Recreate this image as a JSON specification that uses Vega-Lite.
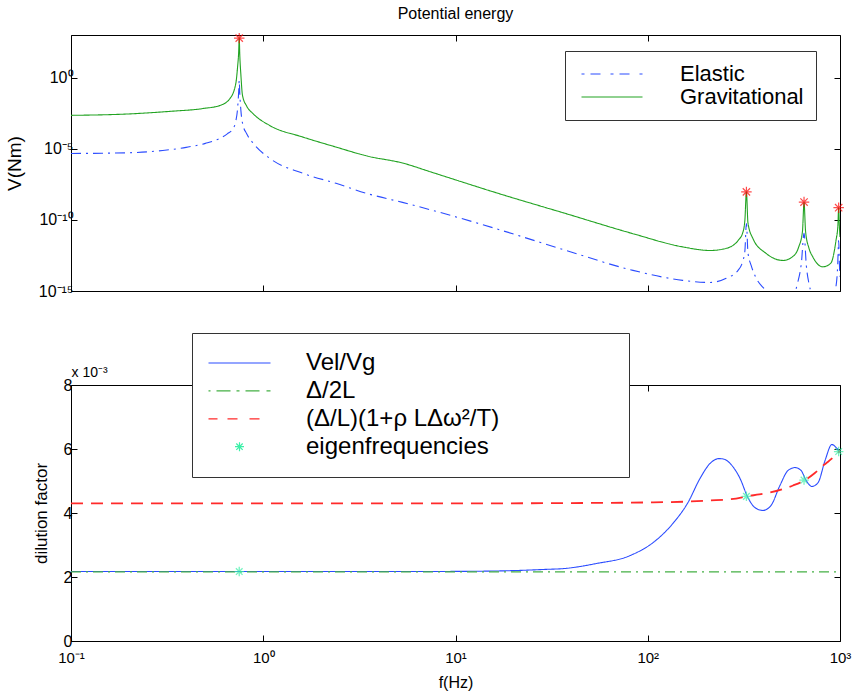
{
  "$schema": "https://vega.github.io/schema/vega-lite/v6.json",
  "background": "white",
  "padding": {"left": 4, "top": 5, "right": 10, "bottom": 0},
  "bounds": "flush",
  "spacing": 94,
  "resolve": {"scale": {"color": "independent", "strokeDash": "independent", "strokeWidth": "independent"}},
  "config": {
    "font": "Liberation Sans",
    "view": {"stroke": "black", "strokeWidth": 1},
    "title": {"font": "Liberation Sans", "fontWeight": "normal", "color": "black"},
    "axis": {
      "domain": false,
      "grid": false,
      "tickSize": -6,
      "tickColor": "black",
      "labelFont": "Liberation Sans",
      "titleFont": "Liberation Sans",
      "labelColor": "black",
      "titleColor": "black",
      "titleFontWeight": "normal",
      "labelFontSize": 16,
      "labelFlush": false,
      "labelOverlap": false
    },
    "legend": {"labelFont": "Liberation Sans", "labelColor": "black", "labelLimit": 0}
  },
  "datasets": {
    "potential": [
      {"f": 0.1, "V": 4.68e-6, "series": "Elastic"},
      {"f": 0.15, "V": 4.9e-6, "series": "Elastic"},
      {"f": 0.218, "V": 5.5e-6, "series": "Elastic"},
      {"f": 0.3, "V": 7.59e-6, "series": "Elastic"},
      {"f": 0.397, "V": 1.26e-5, "series": "Elastic"},
      {"f": 0.5, "V": 2.4e-5, "series": "Elastic"},
      {"f": 0.594, "V": 5.37e-5, "series": "Elastic"},
      {"f": 0.65, "V": 1.12e-4, "series": "Elastic"},
      {"f": 0.697, "V": 2.69e-4, "series": "Elastic"},
      {"f": 0.72, "V": 8.91e-4, "series": "Elastic"},
      {"f": 0.735, "V": 6.31e-3, "series": "Elastic"},
      {"f": 0.745, "V": 0.1, "series": "Elastic"},
      {"f": 0.75, "V": 0.631, "series": "Elastic"},
      {"f": 0.755, "V": 0.0794, "series": "Elastic"},
      {"f": 0.765, "V": 5.01e-3, "series": "Elastic"},
      {"f": 0.78, "V": 6.31e-4, "series": "Elastic"},
      {"f": 0.82, "V": 1.12e-4, "series": "Elastic"},
      {"f": 0.885, "V": 2.51e-5, "series": "Elastic"},
      {"f": 1.08, "V": 2.14e-6, "series": "Elastic"},
      {"f": 1.61, "V": 1.86e-7, "series": "Elastic"},
      {"f": 2.39, "V": 3.72e-8, "series": "Elastic"},
      {"f": 3.5, "V": 6.9e-9, "series": "Elastic"},
      {"f": 5.3, "V": 1.7e-9, "series": "Elastic"},
      {"f": 7.6, "V": 4.68e-10, "series": "Elastic"},
      {"f": 17, "V": 2.0e-11, "series": "Elastic"},
      {"f": 37.6, "V": 7.08e-13, "series": "Elastic"},
      {"f": 83.8, "V": 2.82e-14, "series": "Elastic"},
      {"f": 152, "V": 5.62e-15, "series": "Elastic"},
      {"f": 211, "V": 3.98e-15, "series": "Elastic"},
      {"f": 256, "V": 7.94e-15, "series": "Elastic"},
      {"f": 295, "V": 2.82e-14, "series": "Elastic"},
      {"f": 312, "V": 1.26e-13, "series": "Elastic"},
      {"f": 320, "V": 6.31e-13, "series": "Elastic"},
      {"f": 326, "V": 5.62e-11, "series": "Elastic"},
      {"f": 332, "V": 5.01e-13, "series": "Elastic"},
      {"f": 345, "V": 6.31e-14, "series": "Elastic"},
      {"f": 365, "V": 8.91e-15, "series": "Elastic"},
      {"f": 412, "V": 1e-15, "series": "Elastic"},
      {"f": 460, "V": 1e-16, "series": "Elastic"},
      {"f": 520, "V": 1e-17, "series": "Elastic"},
      {"f": 570, "V": 3.16e-16, "series": "Elastic"},
      {"f": 600, "V": 3.16e-15, "series": "Elastic"},
      {"f": 630, "V": 1e-13, "series": "Elastic"},
      {"f": 650, "V": 1.12e-11, "series": "Elastic"},
      {"f": 668, "V": 6.31e-14, "series": "Elastic"},
      {"f": 690, "V": 3.16e-15, "series": "Elastic"},
      {"f": 712, "V": 6.31e-16, "series": "Elastic"},
      {"f": 780, "V": 1e-17, "series": "Elastic"},
      {"f": 900, "V": 1e-16, "series": "Elastic"},
      {"f": 945, "V": 1e-15, "series": "Elastic"},
      {"f": 972, "V": 5.01e-14, "series": "Elastic"},
      {"f": 984, "V": 3.55e-12, "series": "Elastic"},
      {"f": 994, "V": 5.01e-14, "series": "Elastic"},
      {"f": 1000, "V": 1e-14, "series": "Elastic"},
      {"f": 0.1, "V": 2.24e-3, "series": "Gravitational"},
      {"f": 0.2, "V": 2.82e-3, "series": "Gravitational"},
      {"f": 0.327, "V": 4.27e-3, "series": "Gravitational"},
      {"f": 0.486, "V": 6.76e-3, "series": "Gravitational"},
      {"f": 0.596, "V": 1.12e-2, "series": "Gravitational"},
      {"f": 0.67, "V": 3.31e-2, "series": "Gravitational"},
      {"f": 0.72, "V": 0.398, "series": "Gravitational"},
      {"f": 0.735, "V": 5.37, "series": "Gravitational"},
      {"f": 0.745, "V": 63.1, "series": "Gravitational"},
      {"f": 0.75, "V": 631, "series": "Gravitational"},
      {"f": 0.755, "V": 39.8, "series": "Gravitational"},
      {"f": 0.765, "V": 1.58, "series": "Gravitational"},
      {"f": 0.78, "V": 5.62e-2, "series": "Gravitational"},
      {"f": 0.82, "V": 1e-2, "series": "Gravitational"},
      {"f": 0.885, "V": 2.95e-3, "series": "Gravitational"},
      {"f": 1.08, "V": 4.37e-4, "series": "Gravitational"},
      {"f": 1.61, "V": 6.61e-5, "series": "Gravitational"},
      {"f": 2.39, "V": 1.32e-5, "series": "Gravitational"},
      {"f": 3.5, "V": 3.0e-6, "series": "Gravitational"},
      {"f": 5.3, "V": 1e-6, "series": "Gravitational"},
      {"f": 7.6, "V": 2.14e-7, "series": "Gravitational"},
      {"f": 17, "V": 6.76e-9, "series": "Gravitational"},
      {"f": 37.6, "V": 2.75e-10, "series": "Gravitational"},
      {"f": 83.8, "V": 1.07e-11, "series": "Gravitational"},
      {"f": 152, "V": 1.26e-12, "series": "Gravitational"},
      {"f": 211, "V": 7.08e-13, "series": "Gravitational"},
      {"f": 256, "V": 1e-12, "series": "Gravitational"},
      {"f": 295, "V": 3.55e-12, "series": "Gravitational"},
      {"f": 312, "V": 1.26e-11, "series": "Gravitational"},
      {"f": 320, "V": 9.12e-11, "series": "Gravitational"},
      {"f": 326, "V": 9.33e-9, "series": "Gravitational"},
      {"f": 332, "V": 6.31e-11, "series": "Gravitational"},
      {"f": 352, "V": 5.01e-12, "series": "Gravitational"},
      {"f": 412, "V": 4.47e-13, "series": "Gravitational"},
      {"f": 505, "V": 1.41e-13, "series": "Gravitational"},
      {"f": 565, "V": 2.51e-13, "series": "Gravitational"},
      {"f": 610, "V": 1.26e-12, "series": "Gravitational"},
      {"f": 638, "V": 1.58e-11, "series": "Gravitational"},
      {"f": 650, "V": 1.7e-9, "series": "Gravitational"},
      {"f": 662, "V": 1.58e-11, "series": "Gravitational"},
      {"f": 690, "V": 1e-12, "series": "Gravitational"},
      {"f": 722, "V": 2.51e-13, "series": "Gravitational"},
      {"f": 813, "V": 5.01e-14, "series": "Gravitational"},
      {"f": 895, "V": 8.91e-14, "series": "Gravitational"},
      {"f": 953, "V": 3.55e-12, "series": "Gravitational"},
      {"f": 975, "V": 3.98e-11, "series": "Gravitational"},
      {"f": 984, "V": 7.08e-10, "series": "Gravitational"},
      {"f": 992, "V": 3.98e-11, "series": "Gravitational"},
      {"f": 1000, "V": 6.31e-12, "series": "Gravitational"}
    ],
    "peaks": [
      {"f": 0.75, "V": 603},
      {"f": 326, "V": 9.33e-9},
      {"f": 650, "V": 1.78e-9},
      {"f": 984, "V": 7.24e-10}
    ],
    "dilution": [
      {"f": 0.1, "d": 2.17, "series": "Vel/Vg"},
      {"f": 1, "d": 2.17, "series": "Vel/Vg"},
      {"f": 5, "d": 2.17, "series": "Vel/Vg"},
      {"f": 10, "d": 2.175, "series": "Vel/Vg"},
      {"f": 20, "d": 2.2, "series": "Vel/Vg"},
      {"f": 30, "d": 2.24, "series": "Vel/Vg"},
      {"f": 36, "d": 2.26, "series": "Vel/Vg"},
      {"f": 54, "d": 2.42, "series": "Vel/Vg"},
      {"f": 81, "d": 2.67, "series": "Vel/Vg"},
      {"f": 110, "d": 3.14, "series": "Vel/Vg"},
      {"f": 135, "d": 3.67, "series": "Vel/Vg"},
      {"f": 162, "d": 4.33, "series": "Vel/Vg"},
      {"f": 187, "d": 5.08, "series": "Vel/Vg"},
      {"f": 211, "d": 5.55, "series": "Vel/Vg"},
      {"f": 235, "d": 5.7, "series": "Vel/Vg"},
      {"f": 250, "d": 5.68, "series": "Vel/Vg"},
      {"f": 268, "d": 5.55, "series": "Vel/Vg"},
      {"f": 302, "d": 5.08, "series": "Vel/Vg"},
      {"f": 332, "d": 4.48, "series": "Vel/Vg"},
      {"f": 361, "d": 4.17, "series": "Vel/Vg"},
      {"f": 397, "d": 4.08, "series": "Vel/Vg"},
      {"f": 437, "d": 4.23, "series": "Vel/Vg"},
      {"f": 487, "d": 4.86, "series": "Vel/Vg"},
      {"f": 537, "d": 5.33, "series": "Vel/Vg"},
      {"f": 584, "d": 5.42, "series": "Vel/Vg"},
      {"f": 627, "d": 5.33, "series": "Vel/Vg"},
      {"f": 666, "d": 5.02, "series": "Vel/Vg"},
      {"f": 715, "d": 4.83, "series": "Vel/Vg"},
      {"f": 769, "d": 4.95, "series": "Vel/Vg"},
      {"f": 836, "d": 5.64, "series": "Vel/Vg"},
      {"f": 908, "d": 6.14, "series": "Vel/Vg"},
      {"f": 953, "d": 6.05, "series": "Vel/Vg"},
      {"f": 1000, "d": 5.89, "series": "Vel/Vg"},
      {"f": 0.1, "d": 2.16, "series": "Δ/2L"},
      {"f": 1000, "d": 2.16, "series": "Δ/2L"},
      {"f": 0.1, "d": 4.3, "series": "(Δ/L)(1+ρ LΔω²/T)"},
      {"f": 1, "d": 4.3, "series": "(Δ/L)(1+ρ LΔω²/T)"},
      {"f": 10, "d": 4.3, "series": "(Δ/L)(1+ρ LΔω²/T)"},
      {"f": 36, "d": 4.31, "series": "(Δ/L)(1+ρ LΔω²/T)"},
      {"f": 100, "d": 4.33, "series": "(Δ/L)(1+ρ LΔω²/T)"},
      {"f": 166, "d": 4.36, "series": "(Δ/L)(1+ρ LΔω²/T)"},
      {"f": 206, "d": 4.39, "series": "(Δ/L)(1+ρ LΔω²/T)"},
      {"f": 288, "d": 4.45, "series": "(Δ/L)(1+ρ LΔω²/T)"},
      {"f": 326, "d": 4.52, "series": "(Δ/L)(1+ρ LΔω²/T)"},
      {"f": 380, "d": 4.58, "series": "(Δ/L)(1+ρ LΔω²/T)"},
      {"f": 432, "d": 4.64, "series": "(Δ/L)(1+ρ LΔω²/T)"},
      {"f": 500, "d": 4.74, "series": "(Δ/L)(1+ρ LΔω²/T)"},
      {"f": 570, "d": 4.86, "series": "(Δ/L)(1+ρ LΔω²/T)"},
      {"f": 666, "d": 5.05, "series": "(Δ/L)(1+ρ LΔω²/T)"},
      {"f": 740, "d": 5.25, "series": "(Δ/L)(1+ρ LΔω²/T)"},
      {"f": 816, "d": 5.48, "series": "(Δ/L)(1+ρ LΔω²/T)"},
      {"f": 867, "d": 5.6, "series": "(Δ/L)(1+ρ LΔω²/T)"},
      {"f": 930, "d": 5.76, "series": "(Δ/L)(1+ρ LΔω²/T)"},
      {"f": 1000, "d": 5.95, "series": "(Δ/L)(1+ρ LΔω²/T)"}
    ],
    "eigen": [
      {"f": 0.75, "d": 2.17},
      {"f": 326, "d": 4.52},
      {"f": 650, "d": 5.03},
      {"f": 984, "d": 5.92}
    ]
  },
  "vconcat": [
    {
      "width": 769,
      "height": 256,
      "title": {"text": "Potential energy", "frame": "group", "fontSize": 16, "offset": 8},
      "layer": [
        {
          "data": {"name": "potential"},
          "mark": {"type": "line", "clip": true, "strokeWidth": 1.1, "interpolate": "monotone"},
          "encoding": {
            "x": {
              "field": "f", "type": "quantitative",
              "scale": {"type": "log", "domain": [0.1, 1000], "nice": false},
              "axis": {"values": [0.1, 1, 10, 100, 1000], "labels": false, "title": null, "minExtent": 0, "maxExtent": 0}
            },
            "y": {
              "field": "V", "type": "quantitative",
              "scale": {"type": "log", "domain": [1e-15, 1000], "nice": false},
              "axis": {
                "values": [1e-15, 1e-10, 1e-5, 1],
                "labelExpr": "round(log(datum.value)/LN10) == 0 ? '10⁰' : round(log(datum.value)/LN10) == -5 ? '10⁻⁵' : round(log(datum.value)/LN10) == -10 ? '10⁻¹⁰' : '10⁻¹⁵'",
                "title": "V(Nm)", "titleFontSize": 19,
                "minExtent": 44, "maxExtent": 44, "titlePadding": 3, "labelPadding": 4
              }
            },
            "color": {
              "field": "series", "type": "nominal",
              "scale": {"domain": ["Elastic", "Gravitational"], "range": ["#2b4cff", "#22a322"]},
              "legend": {
                "title": null, "orient": "none", "legendX": 494, "legendY": 16,
                "padding": 12, "labelFontSize": 22, "labelOffset": 81, "rowPadding": 1,
                "symbolSize": 100, "symbolStrokeWidth": 1.1,
                "strokeColor": "#333", "fillColor": "white",
                "encode": {
                  "symbols": {
                    "update": {
                      "shape": {"signal": "datum.value === 'Elastic' ? 'M-1.3,0L-0.7,0M0.5,0L3.3,0M4.5,0L5.1,0M6.3,0L9.1,0M10.3,0L10.9,0' : 'M-1.3,0L10.9,0'"}
                    }
                  }
                }
              }
            },
            "strokeDash": {
              "field": "series", "type": "nominal",
              "scale": {"domain": ["Elastic", "Gravitational"], "range": [[10, 5, 2, 5], [1, 0]]},
              "legend": null
            }
          }
        },
        {
          "data": {"name": "peaks"},
          "mark": {"type": "point", "shape": "M-1,0L1,0M0,-1L0,1M-0.7,-0.7L0.7,0.7M-0.7,0.7L0.7,-0.7", "filled": false, "color": "#ff0000", "size": 110, "strokeWidth": 1.2},
          "encoding": {
            "x": {"field": "f", "type": "quantitative", "axis": {"orient": "top", "values": [0.1, 1, 10, 100, 1000], "labels": false, "title": null, "minExtent": 0, "maxExtent": 0}},
            "y": {"field": "V", "type": "quantitative", "axis": {"orient": "right", "values": [1e-15, 1e-10, 1e-5, 1], "labels": false, "title": null, "minExtent": 0, "maxExtent": 0}}
          }
        }
      ],
      "resolve": {"axis": {"x": "independent", "y": "independent"}}
    },
    {
      "width": 769,
      "height": 256,
      "layer": [
        {
          "data": {"name": "dilution"},
          "mark": {"type": "line", "clip": true, "interpolate": "monotone"},
          "encoding": {
            "x": {
              "field": "f", "type": "quantitative",
              "scale": {"type": "log", "domain": [0.1, 1000], "nice": false},
              "axis": {
                "values": [0.1, 1, 10, 100, 1000],
                "labelExpr": "round(log(datum.value)/LN10) == -1 ? '10⁻¹' : round(log(datum.value)/LN10) == 0 ? '10⁰' : round(log(datum.value)/LN10) == 1 ? '10¹' : round(log(datum.value)/LN10) == 2 ? '10²' : '10³'",
                "labelFontSize": 15, "labelPadding": 15,
                "title": "f(Hz)", "titleFontSize": 16, "titlePadding": 9
              }
            },
            "y": {
              "field": "d", "type": "quantitative",
              "scale": {"domain": [0, 8], "nice": false},
              "axis": {
                "values": [0, 2, 4, 6, 8], "format": "d",
                "title": "dilution factor", "titleFontSize": 17,
                "minExtent": 18, "maxExtent": 18, "titlePadding": 3, "labelPadding": 5
              }
            },
            "color": {
              "field": "series", "type": "nominal",
              "scale": {
                "domain": ["Vel/Vg", "Δ/2L", "(Δ/L)(1+ρ LΔω²/T)", "eigenfrequencies"],
                "range": ["#2b4cff", "#44b044", "#ff2a2a", "#3cf0a8"]
              },
              "legend": {
                "title": "\u2800\u2800\u2800\u2800\u2800\u2800\u2800\u2800",
                "titleOrient": "right", "titlePadding": 0, "titleFontSize": 19, "titleFont": "Liberation Sans", "titleColor": "white",
                "orient": "none", "legendX": 121, "legendY": -52,
                "padding": 18, "labelFontSize": 24, "labelOffset": 72, "rowPadding": 3.9,
                "symbolSize": 100, "symbolStrokeWidth": 1.2,
                "strokeColor": "#333", "fillColor": "white",
                "encode": {
                  "symbols": {
                    "update": {
                      "shape": {"signal": "datum.value === 'Vel/Vg' ? 'M-2.7,0L9.7,0' : datum.value === 'Δ/2L' ? 'M-2.7,0L-2.3,0M-1.1,0L1.7,0M2.9,0L3.5,0M4.7,0L7.5,0M8.9,0L9.7,0' : datum.value === 'eigenfrequencies' ? 'M2.6,0L4.4,0M3.5,-0.9L3.5,0.9M2.86,-0.64L4.14,0.64M2.86,0.64L4.14,-0.64' : 'M-2.7,0L-0.9,0M1.1,0L3.1,0M5.5,0L7.5,0'"}
                    }
                  }
                }
              }
            },
            "strokeDash": {
              "field": "series", "type": "nominal",
              "scale": {"domain": ["Vel/Vg", "Δ/2L", "(Δ/L)(1+ρ LΔω²/T)"], "range": [[1, 0], [10, 5, 2, 5], [12, 8]]},
              "legend": null
            },
            "strokeWidth": {
              "field": "series", "type": "ordinal",
              "scale": {"domain": ["Vel/Vg", "Δ/2L", "(Δ/L)(1+ρ LΔω²/T)"], "range": [1.1, 1.8, 1.2]},
              "legend": null
            }
          }
        },
        {
          "data": {"name": "eigen"},
          "mark": {"type": "point", "shape": "M-1,0L1,0M0,-1L0,1M-0.7,-0.7L0.7,0.7M-0.7,0.7L0.7,-0.7", "filled": false, "color": "#3cf0a8", "size": 90, "strokeWidth": 1.3},
          "encoding": {
            "x": {
              "field": "f", "type": "quantitative",
              "axis": {
                "orient": "top", "values": [0.1, 1, 10, 100, 1000], "labels": false,
                "title": "x 10⁻³", "titleAnchor": "start", "titleAlign": "left", "titleFontSize": 14, "titlePadding": 6,
                "minExtent": 0, "maxExtent": 0
              }
            },
            "y": {"field": "d", "type": "quantitative", "axis": {"orient": "right", "values": [0, 2, 4, 6, 8], "labels": false, "title": null, "minExtent": 0, "maxExtent": 0}}
          }
        }
      ],
      "resolve": {"axis": {"x": "independent", "y": "independent"}}
    }
  ]
}
